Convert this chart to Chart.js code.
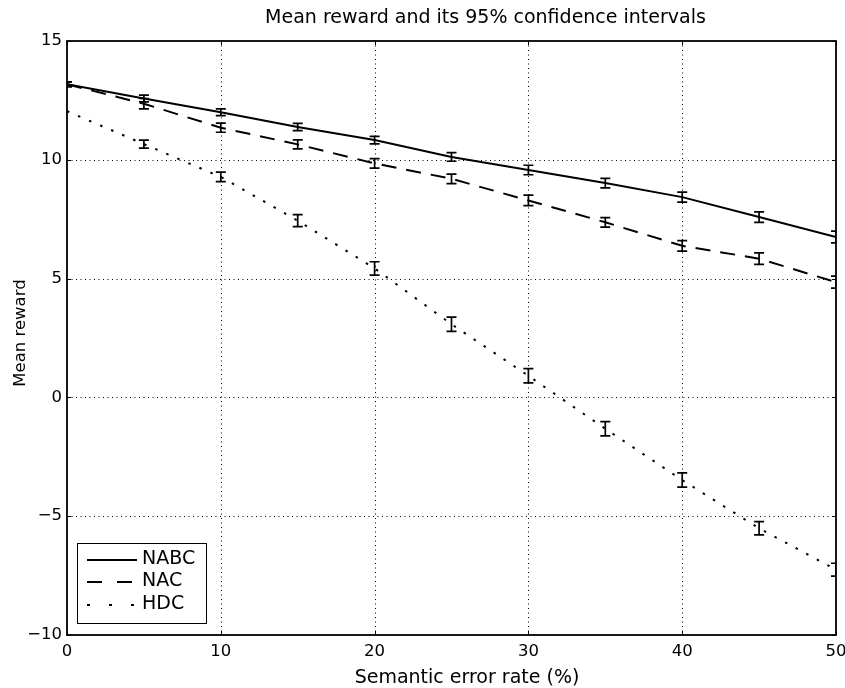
<!DOCTYPE html>
<html>
<head>
<meta charset="utf-8">
<script src="https://cdn.jsdelivr.net/npm/chart.js@4.4.1/dist/chart.umd.min.js"></script>
<style>
  html, body { margin: 0; padding: 0; background: #fff; }
  canvas { display: block; }
</style>
</head>
<body>
<canvas id="c" width="845" height="688"></canvas>
<script>
// ---- data ----
const errorRates = [0, 5, 10, 15, 20, 25, 30, 35, 40, 45, 50];
const nabcMean = [13.18, 12.58, 12.00, 11.38, 10.83, 10.12, 9.57, 9.02, 8.43, 7.59, 6.75];
const nabcCI   = [0.10, 0.14, 0.14, 0.15, 0.16, 0.18, 0.20, 0.20, 0.21, 0.22, 0.25];
const nacMean  = [13.18, 12.36, 11.35, 10.65, 9.85, 9.20, 8.29, 7.37, 6.38, 5.84, 4.85];
const nacCI    = [0.10, 0.22, 0.19, 0.19, 0.20, 0.20, 0.22, 0.20, 0.22, 0.24, 0.25];
const hdcMean  = [12.05, 10.66, 9.28, 7.44, 5.43, 3.08, 0.91, -1.32, -3.48, -5.51, -7.25];
const hdcCI    = [0.00, 0.17, 0.20, 0.25, 0.28, 0.30, 0.30, 0.30, 0.30, 0.28, 0.27];
const seriesNames = ['NABC', 'NAC', 'HDC'];
const xTicks = [0, 10, 20, 30, 40, 50];
const yTicks = [-10, -5, 0, 5, 10, 15];
const titleText = 'Mean reward and its 95% confidence intervals';
const xLabel = 'Semantic error rate (%)';
const yLabel = 'Mean reward';

const FONT = '"DejaVu Sans", "Liberation Sans", sans-serif';
const dashes = [[], [15, 10], [2.5, 9.5]];
const legendDashes = [[], [15, 15], [3, 19]];

function toPts(ys) { return errorRates.map((x, i) => ({ x: x, y: ys[i] })); }
const means = [nabcMean, nacMean, hdcMean];
const cis = [nabcCI, nacCI, hdcCI];

const framePlugin = {
  id: 'frame',
  beforeDatasetsDraw(chart) {
    const { ctx, chartArea: a, scales } = chart;
    ctx.save();
    ctx.strokeStyle = '#000';
    ctx.lineWidth = 1;
    ctx.setLineDash([1, 3.5]);
    xTicks.forEach(v => {
      const px = Math.round(scales.x.getPixelForValue(v)) + 0.5;
      if (px <= a.left + 1 || px >= a.right - 1) return;
      ctx.beginPath(); ctx.moveTo(px, a.top); ctx.lineTo(px, a.bottom); ctx.stroke();
    });
    yTicks.forEach(v => {
      const py = Math.round(scales.y.getPixelForValue(v)) + 0.5;
      if (py <= a.top + 1 || py >= a.bottom - 1) return;
      ctx.beginPath(); ctx.moveTo(a.left, py); ctx.lineTo(a.right, py); ctx.stroke();
    });
    ctx.restore();
  },
  afterDatasetsDraw(chart) {
    const { ctx, chartArea: a, scales } = chart;
    // error bars
    ctx.save();
    ctx.beginPath();
    ctx.rect(a.left, a.top, a.right - a.left, a.bottom - a.top);
    ctx.clip();
    ctx.strokeStyle = '#000';
    ctx.lineWidth = 1.7;
    ctx.setLineDash([]);
    means.forEach((m, s) => {
      m.forEach((v, i) => {
        const e = cis[s][i];
        if (!e) return;
        const px = scales.x.getPixelForValue(errorRates[i]);
        const y1 = scales.y.getPixelForValue(v + e);
        const y2 = scales.y.getPixelForValue(v - e);
        ctx.beginPath();
        ctx.moveTo(px, y1); ctx.lineTo(px, y2);
        ctx.moveTo(px - 5, y1); ctx.lineTo(px + 5, y1);
        ctx.moveTo(px - 5, y2); ctx.lineTo(px + 5, y2);
        ctx.stroke();
      });
    });
    ctx.restore();

    // frame and inward ticks
    ctx.save();
    ctx.strokeStyle = '#000';
    ctx.lineWidth = 1.8;
    ctx.strokeRect(a.left, a.top, a.right - a.left, a.bottom - a.top);
    ctx.lineWidth = 1;
    const tl = 4;
    xTicks.forEach(v => {
      const px = Math.round(scales.x.getPixelForValue(v)) + 0.5;
      ctx.beginPath();
      ctx.moveTo(px, a.bottom); ctx.lineTo(px, a.bottom - tl);
      ctx.moveTo(px, a.top); ctx.lineTo(px, a.top + tl);
      ctx.stroke();
    });
    yTicks.forEach(v => {
      const py = Math.round(scales.y.getPixelForValue(v)) + 0.5;
      ctx.beginPath();
      ctx.moveTo(a.left, py); ctx.lineTo(a.left + tl, py);
      ctx.moveTo(a.right, py); ctx.lineTo(a.right - tl, py);
      ctx.stroke();
    });
    ctx.restore();
  },
  afterDraw(chart) {
    const { ctx } = chart;
    ctx.save();
    ctx.fillStyle = '#000';
    // title
    ctx.font = '19px ' + FONT;
    ctx.textAlign = 'center';
    ctx.textBaseline = 'alphabetic';
    ctx.fillText(titleText, 485.5, 23);
    // x label
    ctx.fillText(xLabel, 467, 683);
    // y label
    ctx.font = '16.5px ' + FONT;
    ctx.translate(25, 333);
    ctx.rotate(-Math.PI / 2);
    ctx.fillText(yLabel, 0, 0);
    ctx.restore();

    // legend
    ctx.save();
    ctx.fillStyle = '#fff';
    ctx.strokeStyle = '#000';
    ctx.lineWidth = 1;
    ctx.fillRect(77, 543, 130, 80);
    ctx.strokeRect(77.5, 543.5, 129, 80);
    const rows = [560, 582, 605];
    ctx.font = '19px ' + FONT;
    ctx.textAlign = 'left';
    ctx.textBaseline = 'middle';
    seriesNames.forEach((n, i) => {
      ctx.strokeStyle = '#000';
      ctx.lineWidth = 2;
      ctx.setLineDash(legendDashes[i]);
      ctx.beginPath();
      ctx.moveTo(87, rows[i]); ctx.lineTo(137, rows[i]);
      ctx.stroke();
      ctx.setLineDash([]);
      ctx.fillStyle = '#000';
      ctx.fillText(n, 142, rows[i] - 1);
    });
    ctx.restore();
  }
};

new Chart(document.getElementById('c'), {
  type: 'line',
  data: {
    datasets: seriesNames.map((n, s) => ({
      label: n,
      data: toPts(means[s]),
      borderColor: '#000',
      borderWidth: 2,
      borderDash: dashes[s],
      pointRadius: 0,
      fill: false,
      tension: 0
    }))
  },
  options: {
    responsive: false,
    animation: false,
    devicePixelRatio: 1,
    layout: { padding: { top: 41, right: 9, left: 0, bottom: 0 } },
    plugins: { legend: { display: false }, title: { display: false }, tooltip: { enabled: false } },
    scales: {
      x: {
        type: 'linear',
        min: 0, max: 50,
        afterBuildTicks(scale) { scale.ticks = xTicks.map(v => ({ value: v })); },
        afterFit(scale) { scale.height = 53; scale.paddingLeft = 0; scale.paddingRight = 0; },
        grid: { display: false, drawTicks: false },
        border: { display: false },
        ticks: {
          color: '#000', padding: 7,
          font: { family: FONT, size: 16.5 },
          maxRotation: 0, autoSkip: false
        }
      },
      y: {
        type: 'linear',
        min: -10, max: 15,
        afterBuildTicks(scale) { scale.ticks = yTicks.map(v => ({ value: v })); },
        afterFit(scale) { scale.width = 67; scale.paddingTop = 0; scale.paddingBottom = 0; },
        grid: { display: false, drawTicks: false },
        border: { display: false },
        ticks: {
          color: '#000', padding: 5,
          font: { family: FONT, size: 16.5 },
          callback: v => (v < 0 ? '\u2212' + Math.abs(v) : String(v))
        }
      }
    }
  },
  plugins: [framePlugin]
});
</script>
</body>
</html>
